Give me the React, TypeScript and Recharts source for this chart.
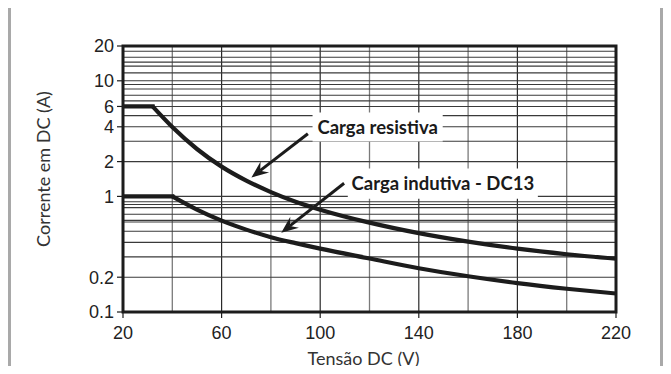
import React from 'react';
import {
  LineChart,
  Line,
  XAxis,
  YAxis,
  CartesianGrid,
  ReferenceArea,
  ReferenceLine,
  Label,
} from 'recharts';

// Axis ticks and grid
const VOLT_TICKS = [20, 60, 100, 140, 180, 220];
const VOLT_GRID_DARK = [60, 100, 140, 180];
const VOLT_GRID_LIGHT = [40, 80, 120, 160, 200];
const AMP_TICKS = [0.1, 0.2, 1, 2, 4, 6, 10, 20];
const AMP_GRID = [
  18, 16, 14.5, 13.4, 11.7, 10, 9.3, 8.5, 7.5, 6.7, 6, 5, 4, 3, 2,
  1, 0.9, 0.85, 0.8, 0.7, 0.62, 0.6, 0.5, 0.4, 0.3, 0.2,
];

// Carga resistiva
const RES_FLAT_VOLTS = [20, 32];
const RES_FLAT_AMPS = [6, 6];
const RES_VOLTS = [32, 40, 50, 60, 70, 80, 90, 100, 120, 140, 160, 180, 200, 220];
const RES_AMPS = [6, 3.98, 2.57, 1.81, 1.37, 1.09, 0.9, 0.768, 0.593, 0.481, 0.406, 0.353, 0.316, 0.289];

// Carga indutiva - DC13
const IND_FLAT_VOLTS = [20, 40];
const IND_FLAT_AMPS = [1, 1];
const IND_VOLTS = [40, 50, 60, 70, 80, 90, 100, 120, 140, 160, 180, 200, 220];
const IND_AMPS = [1, 0.768, 0.617, 0.516, 0.444, 0.394, 0.353, 0.29, 0.239, 0.204, 0.178, 0.159, 0.1445];

const toPoints = (volts: number[], amps: number[]) =>
  volts.map((v, k) => ({ v, i: amps[k] }));

const INK = '#1c1c1c';
const TICK_FONT = { fontSize: 18, fill: '#222', fontFamily: '"Liberation Sans", Arial, sans-serif' };
const NOTE_FONT = '"Lato", "Open Sans", sans-serif';

function Arrow(props: any) {
  const { x1, y1, x2, y2 } = props;
  const ang = Math.atan2(y2 - y1, x2 - x1);
  const ux = Math.cos(ang);
  const uy = Math.sin(ang);
  const px = -uy;
  const py = ux;
  const len = 17;
  const half = 7;
  const notch = 11;
  const bx = x2 - ux * len;
  const by = y2 - uy * len;
  const nx = x2 - ux * notch;
  const ny = y2 - uy * notch;
  const pts = [
    [x2, y2],
    [bx + px * half, by + py * half],
    [nx, ny],
    [bx - px * half, by - py * half],
  ]
    .map((p) => p.join(','))
    .join(' ');
  return (
    <g>
      <line x1={x1} y1={y1} x2={nx} y2={ny} stroke={INK} strokeWidth={3} />
      <polygon points={pts} fill={INK} />
    </g>
  );
}

function YTitle(props: any) {
  const { viewBox } = props;
  const cx = viewBox.x + 32;
  const cy = viewBox.y + viewBox.height / 2 - 10;
  return (
    <text
      x={cx}
      y={cy}
      transform={`rotate(-90, ${cx}, ${cy})`}
      textAnchor="middle"
      dominantBaseline="central"
      fontSize={18}
      fontFamily={NOTE_FONT}
      fill="#333"
    >
      Corrente em DC (A)
    </text>
  );
}

function XTitle(props: any) {
  const { viewBox } = props;
  const cx = viewBox.x + viewBox.width / 2 - 6;
  const cy = viewBox.y + 46;
  return (
    <text
      x={cx}
      y={cy}
      textAnchor="middle"
      dominantBaseline="central"
      fontSize={18}
      fontFamily={NOTE_FONT}
      fill="#333"
    >
      Tensão DC (V)
    </text>
  );
}

export default function App() {
  const resFlat = toPoints(RES_FLAT_VOLTS, RES_FLAT_AMPS);
  const resCurve = toPoints(RES_VOLTS, RES_AMPS);
  const indFlat = toPoints(IND_FLAT_VOLTS, IND_FLAT_AMPS);
  const indCurve = toPoints(IND_VOLTS, IND_AMPS);

  return (
    <div
      style={{
        width: 655,
        height: 369,
        marginTop: -3,
        marginBottom: -8,
        boxSizing: 'border-box',
        borderTop: '3px solid #a9a9a9',
        borderLeft: '3px solid #a9a9a9',
        borderRight: '3px solid #a9a9a9',
        background: '#fff',
        overflow: 'hidden',
      }}
    >
      <LineChart width={640} height={362} margin={{ top: 38, right: 35, bottom: 0, left: 0 }}>
        <CartesianGrid
          horizontal={false}
          verticalValues={VOLT_GRID_LIGHT}
          stroke="#7a7a7a"
          strokeWidth={1.3}
        />
        <CartesianGrid
          horizontal={false}
          verticalValues={VOLT_GRID_DARK}
          stroke="#2a2a2a"
          strokeWidth={1.2}
        />
        <XAxis
          type="number"
          dataKey="v"
          domain={[20, 220]}
          ticks={VOLT_TICKS}
          interval={0}
          allowDataOverflow
          axisLine={false}
          tickSize={6}
          tickMargin={8}
          tickLine={{ stroke: INK, strokeWidth: 1.2 }}
          tick={TICK_FONT}
          height={58}
        >
          <Label content={<XTitle />} />
        </XAxis>
        <YAxis
          type="number"
          dataKey="i"
          scale="log"
          domain={[0.1, 20]}
          ticks={AMP_TICKS}
          interval={0}
          allowDataOverflow
          axisLine={false}
          tickSize={6}
          tickMargin={3}
          tickLine={{ stroke: INK, strokeWidth: 1.2 }}
          tick={TICK_FONT}
          tickFormatter={(v: number) => String(v)}
          width={112}
        >
          <Label content={<YTitle />} />
        </YAxis>

        {AMP_GRID.map((a) => (
          <ReferenceLine key={`row-${a}`} y={a} stroke="#3a3a3a" strokeWidth={1.1} zIndex={-90} />
        ))}

        <ReferenceArea
          x1={96.9}
          x2={149.7}
          y1={2.98}
          y2={5.33}
          fill="#fff"
          fillOpacity={1}
          stroke="none"
          zIndex={-80}
        >
          <Label
            value="Carga resistiva"
            position="center"
            fill="#1a1a1a"
            fontSize={18.5}
            fontWeight={700}
            fontFamily={NOTE_FONT}
          />
        </ReferenceArea>
        <ReferenceArea
          x1={111.2}
          x2={188.3}
          y1={0.955}
          y2={1.74}
          fill="#fff"
          fillOpacity={1}
          stroke="none"
          zIndex={-80}
        >
          <Label
            value="Carga indutiva - DC13"
            position="center"
            fill="#1a1a1a"
            fontSize={18.5}
            fontWeight={700}
            fontFamily={NOTE_FONT}
          />
        </ReferenceArea>

        <ReferenceLine
          segment={[{ x: 95, y: 3.48 }, { x: 72.1, y: 1.46 }]}
          shape={<Arrow />}
        />
        <ReferenceLine
          segment={[{ x: 109.7, y: 1.3 }, { x: 84.2, y: 0.485 }]}
          shape={<Arrow />}
        />

        <Line data={resFlat} dataKey="i" type="linear" stroke={INK} strokeWidth={4.2} strokeLinecap="square" dot={false} isAnimationActive={false} />
        <Line data={resCurve} dataKey="i" type="monotone" stroke={INK} strokeWidth={4.2} dot={false} isAnimationActive={false} />
        <Line data={indFlat} dataKey="i" type="linear" stroke={INK} strokeWidth={4.2} strokeLinecap="square" dot={false} isAnimationActive={false} />
        <Line data={indCurve} dataKey="i" type="monotone" stroke={INK} strokeWidth={4.2} dot={false} isAnimationActive={false} />

        <ReferenceArea
          x1={20}
          x2={220}
          y1={0.1}
          y2={20}
          fill="none"
          stroke={INK}
          strokeWidth={3}
          zIndex={450}
        />
      </LineChart>
    </div>
  );
}
